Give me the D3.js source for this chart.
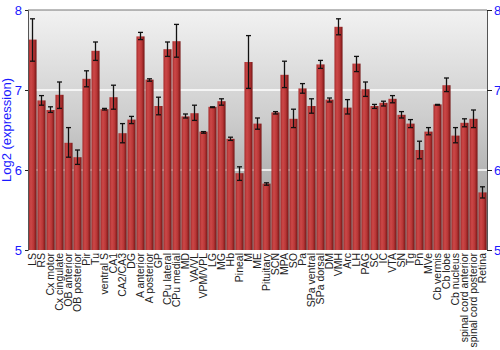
<!DOCTYPE html>
<html>
<head>
<meta charset="utf-8">
<script src="https://cdn.jsdelivr.net/npm/d3@7"></script>
<style>
    body { margin: 0; background: #fff; }
    svg { display: block; font-family: 'Liberation Sans', Arial, sans-serif; }
</style>
</head>
<body>
<div id="chart"></div>
<script>
const regions = [
    'LS', 'RS', 'Cx motor', 'Cx cingulate', 'OB anterior', 'OB posterior',
    'Pir', 'Tu', 'ventral S', 'CA1', 'CA2/CA3', 'DG', 'A anterior',
    'A posterior', 'GP', 'CPu lateral', 'CPu medial', 'MD', 'VA/VL',
    'VPM/VPL', 'LG', 'MG', 'Hb', 'Pineal', 'M', 'ME', 'Pituitary', 'SCN',
    'MPA', 'SO', 'Pa', 'SPa ventral', 'SPa dorsal', 'DM', 'VMH', 'Arc', 'LH',
    'PAG', 'SC', 'IC', 'VTA', 'SN', 'Tg', 'Pn', 'MVe', 'Cb vermis', 'Cb lobe',
    'Cb nucleus', 'spinal cord anterior', 'spinal cord posterior', 'Retina'
];
const expression = [
    7.63, 6.87, 6.75, 6.94, 6.34, 6.16, 7.14, 7.49, 6.76, 6.91, 6.46, 6.63,
    7.67, 7.13, 6.80, 7.51, 7.61, 6.67, 6.71, 6.48, 6.79, 6.86, 6.39, 5.96,
    7.35, 6.58, 5.83, 6.72, 7.19, 6.64, 7.02, 6.80, 7.32, 6.88, 7.79, 6.78,
    7.33, 7.01, 6.80, 6.84, 6.89, 6.69, 6.58, 6.25, 6.48, 6.82, 7.06, 6.43,
    6.59, 6.64, 5.72
];
const errLow = [
    7.36, 6.81, 6.72, 6.77, 6.16, 6.07, 7.04, 7.37, 6.75, 6.76, 6.34, 6.58,
    7.63, 7.11, 6.69, 7.42, 7.41, 6.65, 6.62, 6.46, 6.78, 6.81, 6.37, 5.87,
    7.02, 6.51, 5.81, 6.70, 7.03, 6.53, 6.96, 6.71, 7.27, 6.85, 7.69, 6.70,
    7.23, 6.92, 6.77, 6.80, 6.84, 6.65, 6.53, 6.14, 6.44, 6.81, 6.98, 6.34,
    6.54, 6.53, 5.65
];
const errHigh = [
    7.89, 6.93, 6.79, 7.10, 6.53, 6.25, 7.24, 7.60, 6.77, 7.06, 6.58, 6.67,
    7.72, 7.14, 6.91, 7.60, 7.82, 6.70, 6.81, 6.48, 6.79, 6.89, 6.41, 6.04,
    7.68, 6.65, 5.84, 6.73, 7.36, 6.76, 7.08, 6.89, 7.37, 6.90, 7.89, 6.88,
    7.42, 7.10, 6.82, 6.86, 6.93, 6.73, 6.63, 6.36, 6.53, 6.82, 7.15, 6.53,
    6.64, 6.75, 5.79
];
const yTicks = [5, 6, 7, 8];

const data = regions.map((name, i) => ({
    name,
    value: expression[i],
    lo: errLow[i],
    hi: errHigh[i]
}));

const width = 500;
const height = 350;
const margin = { top: 10, right: 13, bottom: 100, left: 28 };
const innerW = width - margin.left - margin.right;
const innerH = height - margin.top - margin.bottom;

const svg = d3.select('#chart')
    .append('svg')
    .attr('width', width)
    .attr('height', height);

const defs = svg.append('defs');

// grey plot background, light at top
const bg = defs.append('linearGradient')
    .attr('id', 'bgGrad')
    .attr('x1', 0).attr('y1', 0).attr('x2', 0).attr('y2', 1);
bg.append('stop').attr('offset', '0%').attr('stop-color', '#f2f2f2');
bg.append('stop').attr('offset', '45%').attr('stop-color', '#cdcdcd');
bg.append('stop').attr('offset', '100%').attr('stop-color', '#939393');

// cylinder-ish red bars
const barGrad = defs.append('linearGradient')
    .attr('id', 'barGrad')
    .attr('x1', 0).attr('y1', 0).attr('x2', 1).attr('y2', 0);
barGrad.append('stop').attr('offset', '0%').attr('stop-color', '#a52a2a');
barGrad.append('stop').attr('offset', '30%').attr('stop-color', '#cc4848');
barGrad.append('stop').attr('offset', '65%').attr('stop-color', '#b83636');
barGrad.append('stop').attr('offset', '100%').attr('stop-color', '#741414');

const g = svg.append('g')
    .attr('transform', 'translate(' + margin.left + ',' + margin.top + ')');

const x = d3.scaleBand()
    .domain(regions)
    .range([0, innerW])
    .paddingInner(0.1)
    .paddingOuter(0.05);

const y = d3.scaleLinear()
    .domain([5, 8])
    .range([innerH, 0]);

g.append('rect')
    .attr('width', innerW)
    .attr('height', innerH)
    .attr('fill', 'url(#bgGrad)');

// white grid lines
g.append('g')
    .selectAll('line')
    .data(yTicks.filter((t) => t > 5 && t < 8))
    .enter()
    .append('line')
    .attr('x1', 0)
    .attr('x2', innerW)
    .attr('y1', (d) => y(d))
    .attr('y2', (d) => y(d))
    .attr('stroke', '#fff')
    .attr('stroke-width', 1.5);

// bars
g.append('g')
    .selectAll('rect')
    .data(data)
    .enter()
    .append('rect')
    .attr('x', (d) => x(d.name))
    .attr('y', (d) => y(d.value))
    .attr('width', x.bandwidth())
    .attr('height', (d) => innerH - y(d.value))
    .attr('fill', 'url(#barGrad)');

// error bars
const err = g.append('g')
    .attr('stroke', '#111')
    .attr('stroke-width', 1.3);
const cx = (d) => x(d.name) + x.bandwidth() / 2;
err.selectAll('.stem')
    .data(data)
    .enter()
    .append('line')
    .attr('x1', cx).attr('x2', cx)
    .attr('y1', (d) => y(d.lo))
    .attr('y2', (d) => y(d.hi));
['lo', 'hi'].forEach((k) => {
    err.selectAll('.cap-' + k)
        .data(data)
        .enter()
        .append('line')
        .attr('x1', (d) => cx(d) - 2.5)
        .attr('x2', (d) => cx(d) + 2.5)
        .attr('y1', (d) => y(d[k]))
        .attr('y2', (d) => y(d[k]));
});

// top border
g.append('line')
    .attr('x1', 0).attr('x2', innerW)
    .attr('y1', 0).attr('y2', 0)
    .attr('stroke', '#777');

// y axes, both sides
const styleAxis = (sel) => {
    sel.select('.domain').attr('stroke', '#555');
    sel.selectAll('.tick line').attr('stroke', '#222');
    sel.selectAll('.tick text')
        .attr('fill', '#1a1aff')
        .style('font-size', '13px')
        .style('font-family', "'Liberation Sans', Arial, sans-serif");
};

g.append('g')
    .call(d3.axisLeft(y).tickValues(yTicks).tickSize(3).tickPadding(3).tickFormat(d3.format('d')))
    .call(styleAxis);

g.append('g')
    .attr('transform', 'translate(' + innerW + ',0)')
    .call(d3.axisRight(y).tickValues(yTicks).tickSize(5).tickPadding(2).tickFormat(d3.format('d')))
    .call(styleAxis);

// category labels
g.append('g')
    .selectAll('text')
    .data(regions)
    .enter()
    .append('text')
    .attr('transform', (d) => 'translate(' + (x(d) + x.bandwidth() / 2) + ',' + (innerH + 3) + ') rotate(-90)')
    .attr('dy', '0.35em')
    .attr('text-anchor', 'end')
    .attr('fill', '#222')
    .style('font-size', '10.5px')
    .text((d) => d);

svg.append('text')
    .attr('transform', 'translate(11,' + (margin.top + innerH / 2) + ') rotate(-90)')
    .attr('text-anchor', 'middle')
    .attr('fill', '#1a1aff')
    .style('font-size', '13px')
    .text('Log2 (expression)');
</script>
</body>
</html>
